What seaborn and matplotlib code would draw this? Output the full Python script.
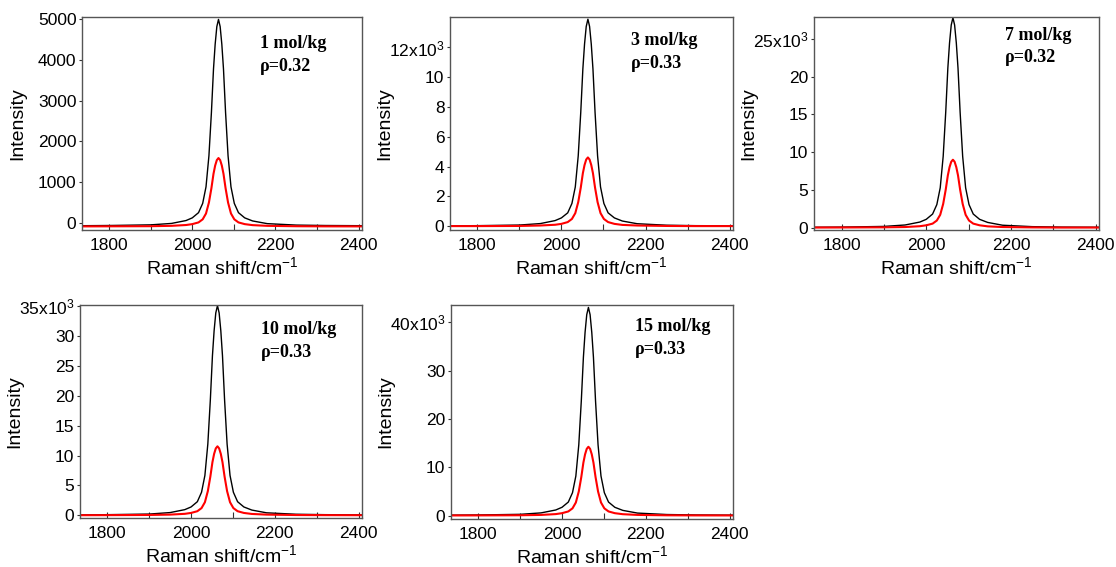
import matplotlib
matplotlib.use("Agg")
import matplotlib.pyplot as plt
from matplotlib.ticker import FixedLocator, FixedFormatter, MultipleLocator
import seaborn as sns
import pandas as pd

# Raman shift grid (cm-1) shared by all spectra
shift = [1735, 1800, 1900, 1950, 1985, 2000, 2015, 2025, 2033, 2040, 2046, 2051, 2055, 2059,
         2063, 2067, 2071, 2075, 2080, 2086, 2093, 2101, 2111, 2126, 2145, 2180, 2250, 2320, 2410]

# 1 mol/kg (raw counts)
par_1 = [-75, -70, -54, -19, 52, 118, 246, 474, 881, 1644, 2712, 3780, 4390, 4822,
         5000, 4822, 4390, 3780, 2712, 1644, 881, 474, 246, 118, 42, -24, -60, -70, -75]
perp_1 = [-92, -90, -87, -78, -58, -36, 6, 82, 225, 495, 849, 1202, 1405, 1539,
          1590, 1539, 1405, 1202, 849, 495, 225, 82, 6, -36, -61, -78, -88, -91, -92]

# 3 mol/kg (x10^3)
par_3 = [0.03, 0.04, 0.08, 0.18, 0.38, 0.56, 0.90, 1.53, 2.64, 4.73, 7.65, 10.56, 12.23, 13.41,
         13.9, 13.41, 12.23, 10.56, 7.65, 4.73, 2.64, 1.53, 0.90, 0.56, 0.35, 0.17, 0.07, 0.04, 0.03]
perp_3 = [0.01, 0.01, 0.02, 0.05, 0.10, 0.16, 0.28, 0.49, 0.88, 1.62, 2.59, 3.56, 4.11, 4.48,
          4.62, 4.48, 4.11, 3.56, 2.59, 1.62, 0.88, 0.49, 0.28, 0.16, 0.09, 0.05, 0.02, 0.01, 0.01]

# 7 mol/kg (x10^3)
par_7 = [0.06, 0.08, 0.17, 0.36, 0.75, 1.11, 1.81, 3.06, 5.28, 9.45, 15.29, 21.13, 24.46, 26.83,
         27.8, 26.83, 24.46, 21.13, 15.29, 9.45, 5.28, 3.06, 1.81, 1.11, 0.70, 0.33, 0.14, 0.08, 0.06]
perp_7 = [0.02, 0.03, 0.05, 0.09, 0.20, 0.32, 0.54, 0.95, 1.71, 3.15, 5.04, 6.93, 8.01, 8.73,
          9.0, 8.73, 8.01, 6.93, 5.04, 3.15, 1.71, 0.95, 0.54, 0.32, 0.18, 0.09, 0.04, 0.02, 0.02]

# 10 mol/kg (x10^3)
par_10 = [0.07, 0.11, 0.21, 0.46, 0.95, 1.40, 2.28, 3.86, 6.67, 11.93, 19.31, 26.68, 30.89, 33.87,
          35.1, 33.87, 30.89, 26.68, 19.31, 11.93, 6.67, 3.86, 2.28, 1.40, 0.88, 0.42, 0.18, 0.11, 0.07]
perp_10 = [0.02, 0.03, 0.06, 0.12, 0.25, 0.40, 0.69, 1.21, 2.19, 4.04, 6.47, 8.89, 10.28, 11.20,
           11.55, 11.20, 10.28, 8.89, 6.47, 4.04, 2.19, 1.21, 0.69, 0.40, 0.23, 0.12, 0.05, 0.03, 0.02]

# 15 mol/kg (x10^3)
par_15 = [0.09, 0.13, 0.26, 0.56, 1.16, 1.72, 2.80, 4.74, 8.19, 14.65, 23.71, 32.76, 37.93, 41.59,
          43.1, 41.59, 37.93, 32.76, 23.71, 14.65, 8.19, 4.74, 2.80, 1.72, 1.08, 0.52, 0.22, 0.13, 0.09]
perp_15 = [0.03, 0.04, 0.07, 0.14, 0.31, 0.50, 0.86, 1.50, 2.71, 4.99, 7.98, 10.97, 12.68, 13.82,
           14.25, 13.82, 12.68, 10.97, 7.98, 4.99, 2.71, 1.50, 0.86, 0.50, 0.29, 0.14, 0.06, 0.04, 0.03]

conc_labels = ["1 mol/kg", "3 mol/kg", "7 mol/kg", "10 mol/kg", "15 mol/kg"]
rho_labels = ["ρ=0.32", "ρ=0.33", "ρ=0.32", "ρ=0.33", "ρ=0.33"]

y_ticks = [[0, 1000, 2000, 3000, 4000, 5000],
           [0, 2, 4, 6, 8, 10, 12],
           [0, 5, 10, 15, 20, 25],
           [0, 5, 10, 15, 20, 25, 30, 35],
           [0, 10, 20, 30, 40]]
y_tick_labels = [["0", "1000", "2000", "3000", "4000", "5000"],
                 ["0", "2", "4", "6", "8", "10", "12x10$^3$"],
                 ["0", "5", "10", "15", "20", "25x10$^3$"],
                 ["0", "5", "10", "15", "20", "25", "30", "35x10$^3$"],
                 ["0", "10", "20", "30", "40x10$^3$"]]

# Plot style
sns.set_style("ticks")
plt.rcParams["font.family"] = ["Liberation Sans", "DejaVu Sans"]
plt.rcParams["mathtext.fontset"] = "custom"
plt.rcParams["mathtext.rm"] = "Liberation Sans"
plt.rcParams["mathtext.it"] = "Liberation Sans:italic"
plt.rcParams["mathtext.bf"] = "Liberation Sans:bold"
plt.rcParams["text.color"] = "black"
plt.rcParams["axes.labelcolor"] = "black"
plt.rcParams["xtick.color"] = "black"
plt.rcParams["ytick.color"] = "black"

fig = plt.figure(figsize=(11.16, 5.67), dpi=100)

# axes boxes [left, bottom, width, height] in figure fraction
boxes = [[0.0735, 0.5944, 0.2509, 0.3757],
         [0.4032, 0.5944, 0.2536, 0.3757],
         [0.7294, 0.5944, 0.2554, 0.3757],
         [0.0717, 0.0864, 0.2527, 0.3757],
         [0.4041, 0.0847, 0.2527, 0.3774]]
y_lims = [(-180, 5060), (-0.25, 14.05), (-0.3, 27.9), (-0.45, 35.2), (-0.7, 43.6)]
text_pos = [(0.636, 0.915), (0.64, 0.93), (0.67, 0.955), (0.64, 0.925), (0.652, 0.94)]

par_all = [par_1, par_3, par_7, par_10, par_15]
perp_all = [perp_1, perp_3, perp_7, perp_10, perp_15]

for idx in range(5):
    ax = fig.add_axes(boxes[idx])
    df = pd.DataFrame({"shift": shift, "par": par_all[idx], "perp": perp_all[idx]})
    sns.lineplot(data=df, x="shift", y="par", color="black", linewidth=1.0, ax=ax)
    sns.lineplot(data=df, x="shift", y="perp", color="#ff0000", linewidth=1.5, ax=ax)

    ax.set_xlim(1735, 2408)
    ax.set_ylim(*y_lims[idx])
    ax.xaxis.set_major_locator(FixedLocator([1800, 2000, 2200, 2400]))
    ax.xaxis.set_minor_locator(MultipleLocator(100))
    ax.yaxis.set_major_locator(FixedLocator(y_ticks[idx]))
    ax.yaxis.set_major_formatter(FixedFormatter(y_tick_labels[idx]))

    ax.tick_params(axis="x", which="both", direction="in", length=4, width=0.8,
                   pad=6, labelsize=12.5, color="#333333")
    ax.tick_params(axis="y", which="major", direction="out", length=2.5, width=0.8,
                   pad=1.5, labelsize=12.5, color="#333333")

    for sp in ax.spines.values():
        sp.set_color("#555555")
        sp.set_linewidth(1.0)

    ax.set_xlabel("Raman shift/cm$^{-1}$", fontsize=14, labelpad=2)
    ax.set_ylabel("Intensity", fontsize=14)
    ax.yaxis.set_label_coords(-0.2, 0.5)

    ax.text(text_pos[idx][0], text_pos[idx][1], conc_labels[idx] + "\n" + rho_labels[idx],
            transform=ax.transAxes, ha="left", va="top", fontsize=13,
            fontweight="bold", family=["Liberation Serif", "DejaVu Serif"], linespacing=1.45)

fig.savefig("out.png", dpi=100)
